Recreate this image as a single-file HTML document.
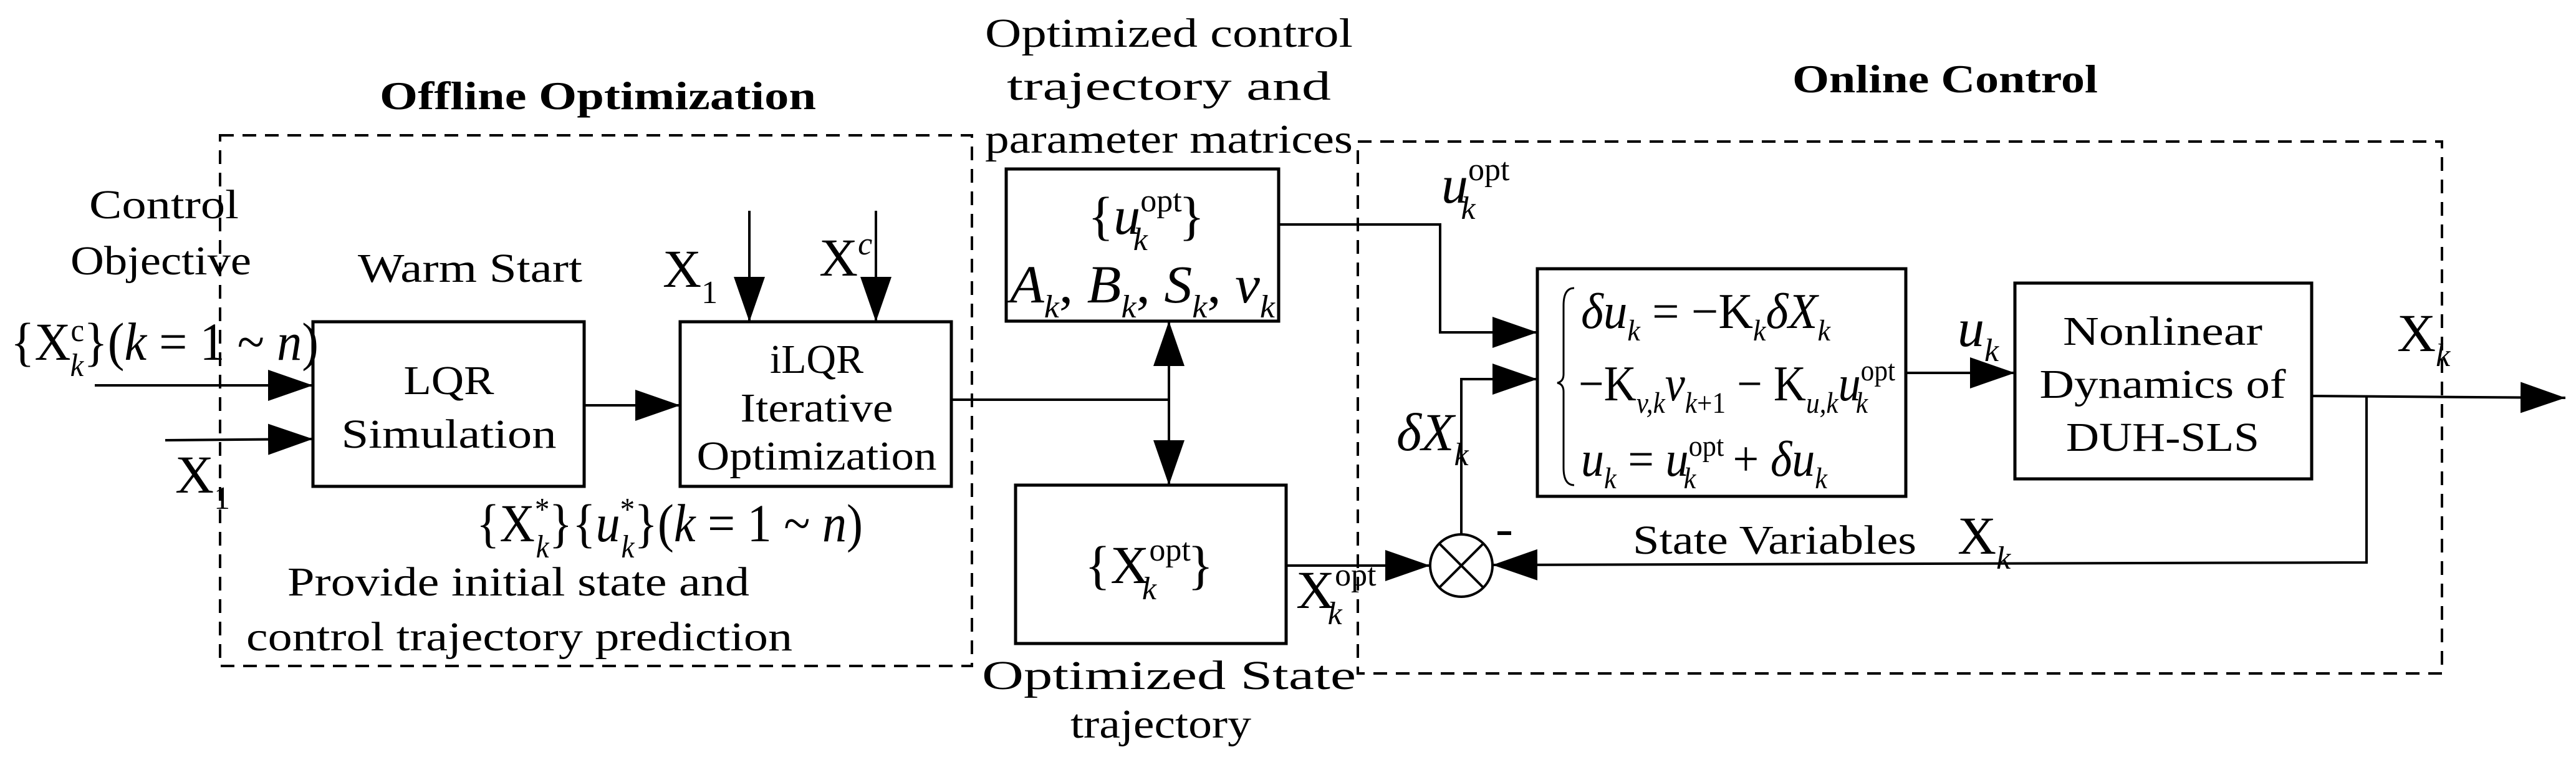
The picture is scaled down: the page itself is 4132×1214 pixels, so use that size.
<!DOCTYPE html>
<html><head><meta charset="utf-8"><style>
html,body{margin:0;padding:0;background:#fff;}
svg{display:block;}
text{font-family:"Liberation Serif","Times New Roman",Times,serif;fill:#000;}
.t{font-size:66px;}
.m{font-size:86px;}
.i{font-style:italic;}
</style></head><body>
<svg width="4132" height="1214" viewBox="0 0 4132 1214" xmlns="http://www.w3.org/2000/svg" font-family="Liberation Serif, Times New Roman, serif">
<defs>
<marker id="a" markerUnits="userSpaceOnUse" markerWidth="72" markerHeight="50" refX="72" refY="25" orient="auto-start-reverse">
<path d="M0,0 L72,25 L0,50 z" fill="#000"/>
</marker>
</defs>
<g fill="none" stroke="#000" stroke-width="4">
<rect x="353" y="217" width="1206" height="851" stroke-dasharray="22,14"/>
<rect x="2178" y="227" width="1739" height="853" stroke-dasharray="22,14"/>
<rect x="502" y="516" width="435" height="264" stroke-width="5"/>
<rect x="1091" y="516" width="435" height="264" stroke-width="5"/>
<rect x="1614" y="271" width="437" height="244" stroke-width="5"/>
<rect x="1629" y="778" width="434" height="254" stroke-width="5"/>
<rect x="2466" y="431" width="591" height="365" stroke-width="5"/>
<rect x="3232" y="454" width="476" height="314" stroke-width="5"/>
<circle cx="2344" cy="907" r="50"/>
<line x1="2309" y1="872" x2="2379" y2="942"/>
<line x1="2379" y1="872" x2="2309" y2="942"/>
<line x1="152" y1="618" x2="502" y2="618" marker-end="url(#a)"/>
<line x1="265" y1="706" x2="502" y2="704" marker-end="url(#a)"/>
<line x1="937" y1="650" x2="1091" y2="650" marker-end="url(#a)"/>
<line x1="1202" y1="338" x2="1202" y2="516" marker-end="url(#a)"/>
<line x1="1405" y1="338" x2="1405" y2="516" marker-end="url(#a)"/>
<polyline points="1526,641 1875,641"/>
<line x1="1875" y1="515" x2="1875" y2="778" marker-start="url(#a)" marker-end="url(#a)"/>
<polyline points="2051,360 2310,360 2310,533 2466,533" marker-end="url(#a)"/>
<polyline points="2344,857 2344,608 2466,608" marker-end="url(#a)"/>
<line x1="2063" y1="907" x2="2294" y2="907" marker-end="url(#a)"/>
<line x1="3057" y1="598" x2="3232" y2="598" marker-end="url(#a)"/>
<line x1="3708" y1="635" x2="4115" y2="638" marker-end="url(#a)"/>
<polyline points="3796,636 3796,902 2394,906" marker-end="url(#a)"/>
</g>
<line x1="2402" y1="855" x2="2424" y2="855" stroke="#000" stroke-width="6"/>

<text x="959" y="175" text-anchor="middle" font-size="64" font-weight="bold" textLength="700" lengthAdjust="spacingAndGlyphs">Offline Optimization</text>
<text x="3120" y="148" text-anchor="middle" font-size="64" font-weight="bold" textLength="490" lengthAdjust="spacingAndGlyphs">Online Control</text>
<text class="t" x="1875" y="75" text-anchor="middle" textLength="590" lengthAdjust="spacingAndGlyphs">Optimized control</text>
<text class="t" x="1875" y="160" text-anchor="middle" textLength="520" lengthAdjust="spacingAndGlyphs">trajectory and</text>
<text class="t" x="1875" y="245" text-anchor="middle" textLength="590" lengthAdjust="spacingAndGlyphs">parameter matrices</text>
<text class="t" x="263" y="350" text-anchor="middle" textLength="240" lengthAdjust="spacingAndGlyphs">Control</text>
<text class="t" x="258" y="440" text-anchor="middle" textLength="290" lengthAdjust="spacingAndGlyphs">Objective</text>
<text class="t" x="754" y="452" text-anchor="middle" textLength="360" lengthAdjust="spacingAndGlyphs">Warm Start</text>
<text class="t" x="720" y="632" text-anchor="middle" textLength="145" lengthAdjust="spacingAndGlyphs">LQR</text>
<text class="t" x="720" y="718" text-anchor="middle" textLength="345" lengthAdjust="spacingAndGlyphs">Simulation</text>
<text class="t" x="1310" y="598" text-anchor="middle" textLength="150" lengthAdjust="spacingAndGlyphs">iLQR</text>
<text class="t" x="1310" y="676" text-anchor="middle" textLength="245" lengthAdjust="spacingAndGlyphs">Iterative</text>
<text class="t" x="1310" y="753" text-anchor="middle" textLength="385" lengthAdjust="spacingAndGlyphs">Optimization</text>
<text class="t" x="461" y="955" textLength="741" lengthAdjust="spacingAndGlyphs">Provide initial state and</text>
<text class="t" x="395" y="1043" textLength="876" lengthAdjust="spacingAndGlyphs">control trajectory prediction</text>
<text class="t" x="1875" y="1105" text-anchor="middle" textLength="600" lengthAdjust="spacingAndGlyphs">Optimized State</text>
<text class="t" x="1862" y="1183" text-anchor="middle" textLength="290" lengthAdjust="spacingAndGlyphs">trajectory</text>
<text class="t" x="3469" y="553" text-anchor="middle" textLength="320" lengthAdjust="spacingAndGlyphs">Nonlinear</text>
<text class="t" x="3469" y="638" text-anchor="middle" textLength="395" lengthAdjust="spacingAndGlyphs">Dynamics of</text>
<text class="t" x="3469" y="723" text-anchor="middle" textLength="310" lengthAdjust="spacingAndGlyphs">DUH-SLS</text>
<text class="t" x="2619" y="888" textLength="455" lengthAdjust="spacingAndGlyphs">State Variables</text>

<!-- math labels -->
<text class="m" x="17" y="577" textLength="494" lengthAdjust="spacingAndGlyphs">{X<tspan font-size="52" dy="-30">c</tspan><tspan class="i" font-size="52" dx="-24" dy="56">k</tspan><tspan dy="-26">}(</tspan><tspan class="i">k</tspan> = 1 ~ <tspan class="i">n</tspan>)</text>
<text class="m" x="281" y="790">X<tspan font-size="52" dy="26">1</tspan></text>
<text class="m" x="1063" y="460">X<tspan font-size="52" dy="26">1</tspan></text>
<text class="m" x="1314" y="442">X<tspan class="i" font-size="52" dy="-34">c</tspan></text>
<text class="m" x="764" y="868" textLength="620" lengthAdjust="spacingAndGlyphs">{X<tspan font-size="52" dy="-34">*</tspan><tspan class="i" font-size="52" dx="-24" dy="60">k</tspan><tspan dy="-26">}{</tspan><tspan class="i">u</tspan><tspan font-size="52" dy="-34">*</tspan><tspan class="i" font-size="52" dx="-24" dy="60">k</tspan><tspan dy="-26">}(</tspan><tspan class="i">k</tspan> = 1 ~ <tspan class="i">n</tspan>)</text>
<text class="m" x="1745" y="375">{<tspan class="i">u</tspan><tspan font-size="52" dy="-36">opt</tspan><tspan class="i" font-size="52" dx="-78" dy="62">k</tspan><tspan dx="50" dy="-26">}</tspan></text>
<text class="m" x="1620" y="485" textLength="425" lengthAdjust="spacingAndGlyphs"><tspan class="i">A</tspan><tspan class="i" font-size="52" dy="24">k</tspan><tspan dy="-24">, </tspan><tspan class="i">B</tspan><tspan class="i" font-size="52" dy="24">k</tspan><tspan dy="-24">, </tspan><tspan class="i">S</tspan><tspan class="i" font-size="52" dy="24">k</tspan><tspan dy="-24">, </tspan><tspan class="i">v</tspan><tspan class="i" font-size="52" dy="24">k</tspan></text>
<text class="m" x="1740" y="935">{X<tspan font-size="52" dy="-36">opt</tspan><tspan class="i" font-size="52" dx="-78" dy="62">k</tspan><tspan dx="50" dy="-26">}</tspan></text>
<text class="m" x="2079" y="975">X<tspan font-size="52" dy="-36">opt</tspan><tspan class="i" font-size="52" dx="-78" dy="62">k</tspan></text>
<text class="m" x="2312" y="325"><tspan class="i">u</tspan><tspan font-size="52" dy="-36">opt</tspan><tspan class="i" font-size="52" dx="-78" dy="62">k</tspan></text>
<text class="m" x="2240" y="722"><tspan class="i">δX</tspan><tspan class="i" font-size="52" dy="24">k</tspan></text>
<text class="m" x="3140" y="555"><tspan class="i">u</tspan><tspan class="i" font-size="52" dy="24">k</tspan></text>
<text class="m" x="3845" y="563">X<tspan class="i" font-size="52" dy="24">k</tspan></text>
<text class="m" x="3140" y="888">X<tspan class="i" font-size="52" dy="24">k</tspan></text>

<!-- equations -->
<path d="M2525,462 Q2508,462 2508,490 L2508,600 Q2508,612 2498,614 Q2508,616 2508,628 L2508,750 Q2508,778 2525,778" fill="none" stroke="#000" stroke-width="3"/>
<text x="2536" y="526" font-size="80" textLength="400" lengthAdjust="spacingAndGlyphs"><tspan class="i">δu</tspan><tspan class="i" font-size="48" dy="20">k</tspan><tspan dy="-20"> = −K</tspan><tspan class="i" font-size="48" dy="20">k</tspan><tspan class="i" dy="-20">δX</tspan><tspan class="i" font-size="48" dy="20">k</tspan></text>
<text x="2532" y="642" font-size="80" textLength="508" lengthAdjust="spacingAndGlyphs">−K<tspan class="i" font-size="48" dy="20">v,k</tspan><tspan class="i" dy="-20">v</tspan><tspan class="i" font-size="48" dy="20">k</tspan><tspan font-size="48">+1</tspan><tspan dy="-20"> − K</tspan><tspan class="i" font-size="48" dy="20">u,k</tspan><tspan class="i" dy="-20">u</tspan><tspan font-size="48" dy="-32">opt</tspan><tspan class="i" font-size="48" dx="-70" dy="52">k</tspan></text>
<text x="2536" y="763" font-size="80" textLength="395" lengthAdjust="spacingAndGlyphs"><tspan class="i">u</tspan><tspan class="i" font-size="48" dy="20">k</tspan><tspan dy="-20"> = </tspan><tspan class="i">u</tspan><tspan font-size="48" dy="-32">opt</tspan><tspan class="i" font-size="48" dx="-70" dy="52">k</tspan><tspan dx="44" dy="-20"> + </tspan><tspan class="i">δu</tspan><tspan class="i" font-size="48" dy="20">k</tspan></text>
</svg>
</body></html>
